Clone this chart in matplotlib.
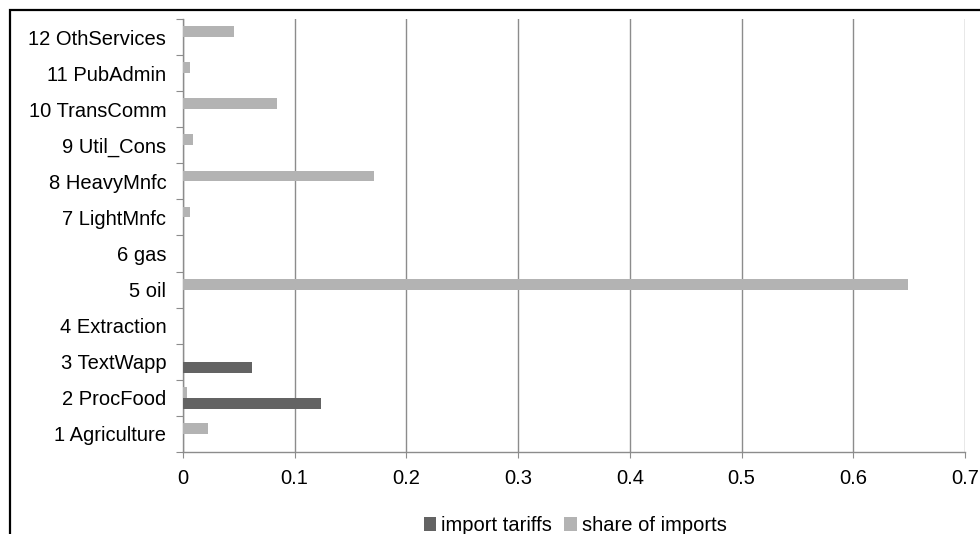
import matplotlib.pyplot as plt
from matplotlib.patches import Rectangle
import numpy as np

plt.rcParams['font.family'] = ['Liberation Sans', 'DejaVu Sans']

sectors = ["1 Agriculture", "2 ProcFood", "3 TextWapp", "4 Extraction", "5 oil",
           "6 gas", "7 LightMnfc", "8 HeavyMnfc", "9 Util_Cons", "10 TransComm",
           "11 PubAdmin", "12 OthServices"]
import_tariffs = [0.0, 0.124, 0.062, 0.0, 0.0, 0.0, 0.0, 0.0, 0.0, 0.0, 0.0, 0.0]
share_of_imports = [0.022, 0.004, 0.0, 0.0, 0.649, 0.0, 0.006, 0.171, 0.009, 0.084, 0.006, 0.046]
xticks = [0, 0.1, 0.2, 0.3, 0.4, 0.5, 0.6, 0.7]
xtick_labels = ["0", "0.1", "0.2", "0.3", "0.4", "0.5", "0.6", "0.7"]

dark = "#636363"
light = "#b3b3b3"
axis_gray = "#8c8c8c"
fs = 14.5

fig = plt.figure(figsize=(9.8, 5.34), dpi=100)
ax = fig.add_axes([0.1867, 0.1536, 0.7980, 0.8108])

y = np.arange(len(sectors))
h = 0.3
ax.barh(y - h / 2, import_tariffs, height=h, color=dark, label="import tariffs", zorder=3)
ax.barh(y + h / 2, share_of_imports, height=h, color=light, label="share of imports", zorder=3)

ax.set_xlim(0, 0.7)
ax.set_ylim(-0.5, len(sectors) - 0.5)

ax.set_xticks(xticks)
ax.set_xticklabels(xtick_labels, fontsize=fs)
ax.tick_params(axis='x', length=4, color=axis_gray, pad=8)
ax.grid(axis='x', color=axis_gray, lw=1, zorder=0)

ax.set_yticks(np.arange(len(sectors) + 1) - 0.5)
ax.set_yticklabels([])
ax.set_yticks(y, minor=True)
ax.set_yticklabels(sectors, minor=True, fontsize=fs)
ax.tick_params(axis='y', which='major', length=5, color=axis_gray)
ax.tick_params(axis='y', which='minor', length=0, pad=12)

for s in ["top", "right"]:
    ax.spines[s].set_visible(False)
for s in ["left", "bottom"]:
    ax.spines[s].set_color(axis_gray)
    ax.spines[s].set_linewidth(1)

fig.legend(loc='lower center', bbox_to_anchor=(0.587, -0.036), ncol=2, frameon=False,
           fontsize=fs, handlelength=0.62, handleheight=0.62, handletextpad=0.25,
           columnspacing=0.6)

frame = Rectangle((10 / 980, -0.1), 1.2, 1 - 10 / 534 + 0.1, transform=fig.transFigure,
                  fill=False, edgecolor="black", lw=1.6, clip_on=False)
fig.patches.append(frame)

fig.savefig("out.png", dpi=100)
